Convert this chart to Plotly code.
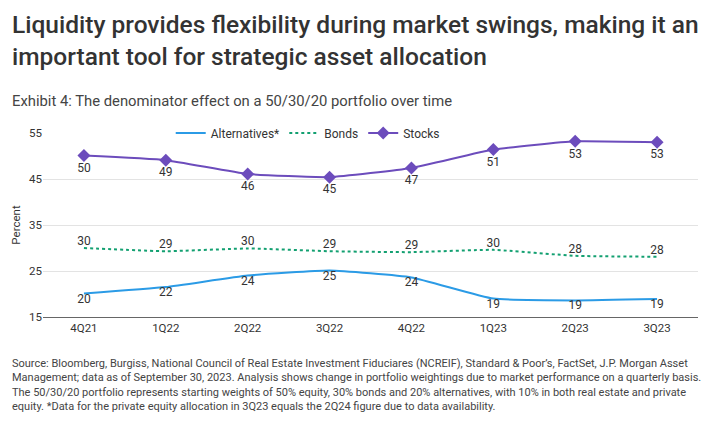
import plotly.graph_objects as go

# Quarterly portfolio weights (percent)
quarters = ['4Q21', '1Q22', '2Q22', '3Q22', '4Q22', '1Q23', '2Q23', '3Q23']
stocks = [50.1, 49.1, 46.1, 45.4, 47.4, 51.4, 53.2, 53.0]
bonds = [30.0, 29.3, 29.9, 29.3, 29.1, 29.6, 28.3, 28.1]
alternatives = [20.1, 21.5, 24.0, 25.1, 23.6, 19.0, 18.6, 18.9]
y_ticks = [15, 25, 35, 45, 55]

FONT = 'Roboto'
TEXT = '#333333'

fig = go.Figure()

fig.add_trace(go.Scatter(
    x=quarters, y=alternatives, name='Alternatives*', mode='lines+text',
    line=dict(color='#2b9be6', width=2, shape='spline', smoothing=0.4),
    text=[f'{v:.0f}' for v in alternatives], textposition='bottom center',
    textfont=dict(family=FONT, size=12, color=TEXT)))

fig.add_trace(go.Scatter(
    x=quarters, y=bonds, name='Bonds', mode='lines+text',
    line=dict(color='#13a071', width=2, dash='dot', shape='spline', smoothing=0.4),
    text=[f'{v:.0f}' for v in bonds], textposition='top center',
    textfont=dict(family=FONT, size=12, color=TEXT)))

fig.add_trace(go.Scatter(
    x=quarters, y=stocks, name='Stocks', mode='lines+markers+text',
    line=dict(color='#6c4cbc', width=2, shape='spline', smoothing=0.4),
    marker=dict(symbol='diamond', size=10, color='#6c4cbc'),
    text=[f'{v:.0f}' for v in stocks], textposition='bottom center',
    textfont=dict(family=FONT, size=12, color=TEXT)))

fig.update_layout(
    width=713, height=431,
    margin=dict(l=43, r=15, t=133, b=114, autoexpand=False),
    paper_bgcolor='white', plot_bgcolor='white',
    font=dict(family=FONT, size=12, color=TEXT),
    showlegend=True,
    legend=dict(orientation='h', x=0.195, y=1.0, xanchor='left', yanchor='middle',
                bgcolor='white', font=dict(size=12, color=TEXT),
                itemwidth=30, tracegroupgap=0),
    xaxis=dict(showgrid=False, showline=True, linecolor='#666666', linewidth=1,
               ticks='', tickfont=dict(size=11.5, color=TEXT), range=[-0.5, 7.5]),
    yaxis=dict(range=[15, 55], tickvals=y_ticks, showgrid=True, gridcolor='#e3e3e3',
               zeroline=False, showline=False, ticks='',
               tickfont=dict(size=11.5, color=TEXT),
               title=dict(text='Percent', font=dict(size=11.5, color=TEXT), standoff=6)),
)

fig.add_annotation(
    xref='paper', yref='paper', x=-0.05, y=1.679, xanchor='left', yanchor='top',
    align='left', showarrow=False,
    text='Liquidity provides flexibility during market swings, making it an<br>'
         'important tool for strategic asset allocation',
    font=dict(family=FONT, size=24.5, weight=500, color='#333333'))

fig.add_annotation(
    xref='paper', yref='paper', x=-0.05, y=1.234, xanchor='left', yanchor='top',
    align='left', showarrow=False,
    text='Exhibit 4: The denominator effect on a 50/30/20 portfolio over time',
    font=dict(family=FONT, size=14.8, color='#444444'))

fig.add_annotation(
    xref='paper', yref='paper', x=-0.05, y=-0.2065, xanchor='left', yanchor='top',
    align='left', showarrow=False,
    text='Source: Bloomberg, Burgiss, National Council of Real Estate Investment Fiduciares (NCREIF), '
         'Standard &amp; Poor’s, FactSet, J.P. Morgan Asset<br>'
         'Management; data as of September 30, 2023. Analysis shows change in portfolio weightings '
         'due to market performance on a quarterly basis.<br>'
         'The 50/30/20 portfolio represents starting weights of 50% equity, 30% bonds and 20% '
         'alternatives, with 10% in both real estate and private<br>'
         'equity. *Data for the private equity allocation in 3Q23 equals the 2Q24 figure due to '
         'data availability.',
    font=dict(family=FONT, size=11.0, color='#444444'))

# the page has a default 8px body margin; drop it so the figure sits at 0,0
fig.write_html('out.html', config={'displayModeBar': False},
               post_script="document.body.style.margin='0';")
